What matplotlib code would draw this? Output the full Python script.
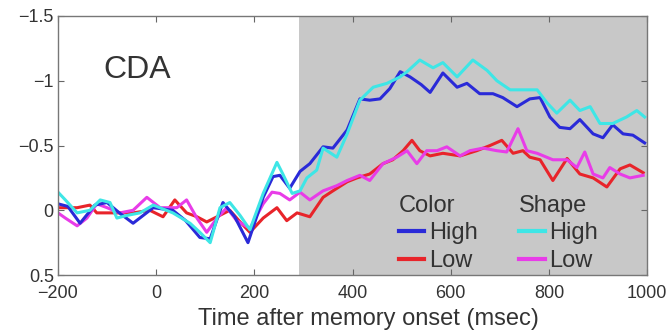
import matplotlib
matplotlib.use("Agg")
import matplotlib.pyplot as plt
from matplotlib.lines import Line2D

plt.rcParams["font.family"] = ["Liberation Sans", "DejaVu Sans"]

# CDA waveforms (microvolts)
color_high_t = [-200, -180, -155, -125, -100, -75, -47, -6, 34, 60, 89, 110, 136, 160, 187, 218, 238, 252,
                272, 293, 313, 340, 360, 389, 415, 435, 456, 476, 497, 517, 540, 558, 584, 613, 633, 659,
                686, 706, 735, 761, 782, 802, 822, 843, 863, 890, 910, 930, 951, 971, 995]
color_high_v = [-0.05, -0.03, 0.10, -0.04, -0.06, 0.02, 0.10, -0.02, 0.0, 0.08, 0.21, 0.22, -0.06, 0.05,
                0.25, -0.10, -0.26, -0.27, -0.17, -0.30, -0.36, -0.49, -0.48, -0.62, -0.86, -0.85, -0.86,
                -0.94, -1.07, -1.03, -0.97, -0.91, -1.06, -0.95, -0.98, -0.90, -0.90, -0.87, -0.80, -0.86,
                -0.87, -0.72, -0.64, -0.63, -0.70, -0.59, -0.56, -0.66, -0.59, -0.58, -0.52]

color_low_t = [-200, -161, -135, -121, -100, -74, -47, -13, 14, 38, 62, 83, 103, 124, 150, 171, 191, 218,
               246, 266, 287, 313, 340, 360, 389, 409, 435, 462, 482, 503, 521, 537, 558, 584, 619, 653,
               680, 704, 727, 747, 761, 782, 808, 837, 863, 890, 918, 945, 965, 992]
color_low_v = [-0.02, -0.02, -0.04, 0.02, 0.02, 0.02, 0.02, 0.0, 0.05, -0.08, 0.02, 0.05, 0.09, 0.05, 0.0,
               0.09, 0.17, 0.06, -0.02, 0.08, 0.02, 0.05, -0.10, -0.15, -0.22, -0.25, -0.28, -0.36, -0.39,
               -0.46, -0.54, -0.46, -0.42, -0.44, -0.42, -0.46, -0.50, -0.54, -0.44, -0.46, -0.41, -0.39,
               -0.23, -0.40, -0.28, -0.25, -0.18, -0.32, -0.35, -0.29]

shape_high_t = [-200, -185, -161, -135, -114, -94, -80, -60, -33, -6, 34, 69, 89, 110, 130, 150, 171, 191,
                218, 246, 258, 277, 293, 307, 327, 340, 368, 389, 415, 442, 470, 497, 511, 537, 564, 584,
                613, 645, 674, 694, 721, 747, 776, 796, 816, 843, 863, 884, 904, 930, 958, 979, 995]
shape_high_v = [-0.14, -0.08, 0.02, 0.0, -0.08, -0.06, 0.06, 0.04, 0.02, -0.04, 0.02, 0.10, 0.17, 0.25,
                -0.02, -0.06, 0.04, 0.15, -0.13, -0.37, -0.28, -0.13, -0.15, -0.25, -0.31, -0.48, -0.41,
                -0.59, -0.85, -0.95, -0.98, -1.03, -1.07, -1.16, -1.10, -1.14, -1.03, -1.16, -1.08, -1.00,
                -0.93, -0.93, -0.93, -0.83, -0.75, -0.85, -0.77, -0.80, -0.67, -0.67, -0.72, -0.77, -0.72]

shape_low_t = [-200, -185, -161, -141, -121, -100, -74, -47, -19, 8, 42, 62, 83, 103, 124, 144, 164, 191,
               218, 236, 252, 272, 293, 313, 340, 368, 389, 415, 435, 462, 490, 511, 531, 551, 572, 592,
               619, 639, 666, 694, 714, 737, 755, 776, 808, 837, 857, 873, 890, 910, 924, 945, 965, 992]
shape_low_v = [0.02, 0.06, 0.12, 0.06, -0.05, -0.02, 0.02, 0.0, -0.10, -0.02, -0.02, -0.08, 0.06, 0.17,
               0.06, -0.02, 0.08, 0.14, -0.05, -0.14, -0.13, -0.08, -0.14, -0.08, -0.15, -0.19, -0.23,
               -0.27, -0.23, -0.36, -0.41, -0.46, -0.36, -0.46, -0.46, -0.49, -0.42, -0.46, -0.48, -0.46,
               -0.45, -0.63, -0.46, -0.44, -0.39, -0.39, -0.33, -0.45, -0.28, -0.25, -0.33, -0.28, -0.25,
               -0.27]

retention_start = 290
x_ticks = [-200, 0, 200, 400, 600, 800, 1000]
y_ticks = [-1.5, -1, -0.5, 0, 0.5]
y_labels = ["\u22121.5", "\u22121", "\u22120.5", "0", "0.5"]

BLUE = "#2a2ad8"
RED = "#e8242a"
CYAN = "#3ee6e6"
MAGENTA = "#e83ce8"
TXT = "#333333"

fig = plt.figure(figsize=(6.71, 3.33), dpi=100)
ax = fig.add_axes([0.0864, 0.174, 0.878, 0.778])

ax.axvspan(retention_start, 1000, color="#c8c8c8", lw=0, zorder=0)

lw = 2.2
ax.plot(color_low_t, color_low_v, color=RED, lw=lw)
ax.plot(shape_low_t, shape_low_v, color=MAGENTA, lw=lw)
ax.plot(color_high_t, color_high_v, color=BLUE, lw=lw)
ax.plot(shape_high_t, shape_high_v, color=CYAN, lw=lw)

ax.set_xlim(-200, 1000)
ax.set_ylim(0.5, -1.5)
ax.set_xticks(x_ticks)
ax.set_yticks(y_ticks)
ax.set_yticklabels(y_labels)
ax.tick_params(direction="in", top=True, right=True, length=4, width=0.8,
               colors="#666666", labelcolor=TXT, labelsize=13)
ax.tick_params(axis="x", pad=7)
ax.tick_params(axis="y", pad=3)
for s in ax.spines.values():
    s.set_color("#777777")
    s.set_linewidth(1.0)

ax.set_xlabel("Time after memory onset (msec)", fontsize=17, color=TXT)
ax.xaxis.set_label_coords(0.527, -0.128)
ax.text(-108, -1.08, "CDA", fontsize=23, color=TXT, ha="left", va="center")

# two-column legend with headings
leg_kw = dict(frameon=False, fontsize=17, handlelength=1.1, handletextpad=0.2,
              labelspacing=0.25, borderpad=0, title_fontsize=17, alignment="left")
leg1 = ax.legend(handles=[Line2D([], [], color=BLUE, lw=3), Line2D([], [], color=RED, lw=3)],
                 labels=["High", "Low"], title="Color", loc="lower left",
                 bbox_to_anchor=(0.558, -0.035), **leg_kw)
for t in leg1.get_texts():
    t.set_color(TXT)
leg1.get_title().set_color(TXT)
ax.add_artist(leg1)
leg2 = ax.legend(handles=[Line2D([], [], color=CYAN, lw=3), Line2D([], [], color=MAGENTA, lw=3)],
                 labels=["High", "Low"], title="Shape", loc="lower left",
                 bbox_to_anchor=(0.762, -0.035), **leg_kw)
for t in leg2.get_texts():
    t.set_color(TXT)
leg2.get_title().set_color(TXT)

fig.savefig("out.png", dpi=100)
